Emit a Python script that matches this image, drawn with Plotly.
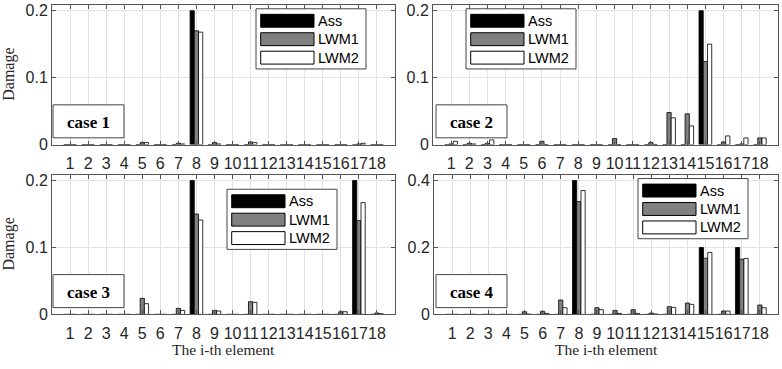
import plotly.graph_objects as go
from plotly.subplots import make_subplots

elements = list(range(1, 19))

# case 1
c1_ass  = [0,0,0,0,0,0,0,0.2,0,0,0,0,0,0,0,0,0,0]
c1_lwm1 = [0,0,0,0,0.003,0,0.002,0.170,0.003,0,0.004,0,0,0,0,0,0.001,0]
c1_lwm2 = [0,0,0,0,0.003,0,0.001,0.168,0.001,0,0.003,0,0,0,0,0,0.002,0]
# case 2
c2_ass  = [0,0,0,0,0,0,0,0,0,0,0,0,0,0,0.2,0,0,0]
c2_lwm1 = [0.001,0.002,0.002,0,0,0.005,0,0,0,0.009,0,0.003,0.048,0.046,0.124,0.004,0.001,0.010]
c2_lwm2 = [0.005,0.001,0.007,0,0,0,0,0,0,0,0,0,0.040,0.028,0.150,0.013,0.010,0.010]
# case 3
c3_ass  = [0,0,0,0,0,0,0,0.2,0,0,0,0,0,0,0,0,0.2,0]
c3_lwm1 = [0,0,0,0,0.024,0,0.009,0.150,0.006,0,0.019,0,0,0,0,0.004,0.140,0.002]
c3_lwm2 = [0,0,0,0,0.016,0,0.006,0.141,0.005,0,0.018,0,0,0,0,0.004,0.167,0.001]
# case 4
c4_ass  = [0,0,0,0,0,0,0,0.4,0,0,0,0,0,0,0.2,0,0.2,0]
c4_lwm1 = [0,0,0,0,0.008,0.009,0.043,0.337,0.020,0.012,0.014,0.004,0.023,0.034,0.168,0.010,0.165,0.028]
c4_lwm2 = [0,0,0,0,0.001,0.003,0.020,0.370,0.014,0.003,0.003,0.001,0.021,0.030,0.185,0.010,0.167,0.020]

cases = [
    ("case 1", c1_ass, c1_lwm1, c1_lwm2, 0.2),
    ("case 2", c2_ass, c2_lwm1, c2_lwm2, 0.2),
    ("case 3", c3_ass, c3_lwm1, c3_lwm2, 0.2),
    ("case 4", c4_ass, c4_lwm1, c4_lwm2, 0.4),
]
series_names = ["Ass", "LWM1", "LWM2"]
series_colors = ["#000000", "#808080", "#ffffff"]

W, H = 782, 369
def px(x, y):
    return x / W, 1 - y / H

fig = make_subplots(rows=2, cols=2)

# pixel geometry of plot areas: (left, right, top, bottom)
areas = [(52, 395, 3, 147), (433, 778, 3, 147), (52, 395, 178, 322), (434, 778, 178, 322)]
legend_pos = [(256, 7), (466, 7), (227, 193), (638, 182)]
case_pos = [(53, 106), (436, 106), (53, 281), (436, 281)]

axis_color = "#555555"
grid_color = "#e3e3e3"
sans = "Liberation Sans, Arial, sans-serif"
serif = "Liberation Serif, Times New Roman, serif"

shapes = []
annotations = []

for i, (label, ass, l1, l2, top) in enumerate(cases):
    r, c = i // 2 + 1, i % 2 + 1
    for name, vals, col in zip(series_names, [ass, l1, l2], series_colors):
        fig.add_trace(go.Bar(x=elements, y=vals, name=name, showlegend=False,
                             marker=dict(color=col, line=dict(color="#000000", width=0.8))),
                      row=r, col=c)
    L, R, T, B = areas[i]
    x0, y1 = px(L, T)
    x1, y0 = px(R, B)
    ymax = top * (B - T) / (B - T - 6)
    fig.update_xaxes(domain=[x0, x1], range=[0, 19], tickmode="array", tickvals=elements,
                     ticktext=[str(e) for e in elements], tickangle=0,
                     showline=True, linecolor=axis_color, linewidth=1, mirror="ticks",
                     ticks="inside", ticklen=4, tickcolor=axis_color,
                     ticklabelstandoff=4,
                     showgrid=True, gridcolor=grid_color, gridwidth=1, zeroline=False,
                     tickfont=dict(family=sans, size=16, color="#262626"),
                     row=r, col=c)
    ytv = [0, top / 2, top]
    fig.update_yaxes(domain=[y0, y1], range=[0, ymax], tickmode="array", tickvals=ytv,
                     ticktext=["0", f"{top/2:g}", f"{top:g}"],
                     showline=True, linecolor=axis_color, linewidth=1, mirror="ticks",
                     ticks="inside", ticklen=4, tickcolor=axis_color,
                     showgrid=True, gridcolor=grid_color, gridwidth=1, zeroline=False,
                     tickfont=dict(family=sans, size=16, color="#262626"),
                     row=r, col=c)

    # legend box
    lx, ly = legend_pos[i]
    a, b = px(lx, ly); cc, d = px(lx + 110, ly + 62)
    shapes.append(dict(type="rect", xref="paper", yref="paper", x0=a, x1=cc, y0=d, y1=b,
                       line=dict(color="#444444", width=1), fillcolor="#ffffff"))
    for k, (name, col) in enumerate(zip(series_names, series_colors)):
        sy = ly + 5.7 + 19 * k
        a, b = px(lx + 4.7, sy); cc, d = px(lx + 58, sy + 13.3)
        shapes.append(dict(type="rect", xref="paper", yref="paper", x0=a, x1=cc, y0=d, y1=b,
                           line=dict(color="#000000", width=1), fillcolor=col))
        tx, ty = px(lx + 60, sy + 6.7)
        annotations.append(dict(x=tx, y=ty, xref="paper", yref="paper", text=name,
                                showarrow=False, xanchor="left", yanchor="middle",
                                font=dict(family=sans, size=14.5, color="#000000")))
    # case box
    cx, cy = case_pos[i]
    a, b = px(cx, cy); cc, d = px(cx + 71, cy + 34)
    shapes.append(dict(type="rect", xref="paper", yref="paper", x0=a, x1=cc, y0=d, y1=b,
                       line=dict(color="#444444", width=1), fillcolor="#ffffff"))
    tx, ty = px(cx + 35.5, cy + 18)
    annotations.append(dict(x=tx, y=ty, xref="paper", yref="paper", text=f"<b>{label}</b>",
                            showarrow=False, xanchor="center", yanchor="middle",
                            font=dict(family=serif, size=17, color="#000000")))

# axis titles
for (L, R, T, B) in [areas[0], areas[2]]:
    tx, ty = px(9, (T + B) / 2)
    annotations.append(dict(x=tx, y=ty, xref="paper", yref="paper", text="Damage",
                            textangle=-90, showarrow=False, xanchor="center", yanchor="middle",
                            font=dict(family=serif, size=16, color="#262626")))
for (L, R, T, B) in [areas[2], areas[3]]:
    tx, ty = px((L + R) / 2, 358)
    annotations.append(dict(x=tx, y=ty, xref="paper", yref="paper", text="The i-th element",
                            showarrow=False, xanchor="center", yanchor="middle",
                            font=dict(family=serif, size=15.5, color="#262626")))

fig.update_layout(width=W, height=H, margin=dict(l=0, r=0, t=0, b=0),
                  paper_bgcolor="#ffffff", plot_bgcolor="#ffffff",
                  barmode="group", bargap=0.3, bargroupgap=0,
                  shapes=shapes, annotations=annotations)

fig.write_html("out.html", config={"displayModeBar": False},
               post_script="document.body.style.margin='0px';")
